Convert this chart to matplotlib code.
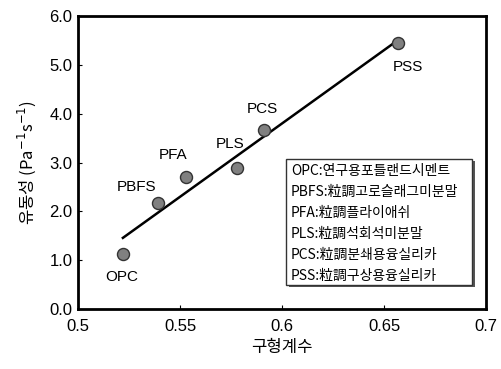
import numpy as np
from matplotlib import pyplot as plt
from matplotlib.patches import Rectangle

# data
names = ['OPC', 'PBFS', 'PFA', 'PLS', 'PCS', 'PSS']
shape_coef = [0.522, 0.539, 0.553, 0.578, 0.591, 0.657]
fluidity = [1.12, 2.17, 2.70, 2.89, 3.66, 5.45]
legend_lines = [
    'OPC:연구용포틀랜드시멘트',
    'PBFS:粒調고로슬래그미분말',
    'PFA:粒調플라이애쉬',
    'PLS:粒調석회석미분말',
    'PCS:粒調분쇄용융실리카',
    'PSS:粒調구상용융실리카',
]
x_ticks = [0.5, 0.55, 0.6, 0.65, 0.7]
x_tick_labels = ['0.5', '0.55', '0.6', '0.65', '0.7']
y_ticks = [0.0, 1.0, 2.0, 3.0, 4.0, 5.0, 6.0]

# label offsets in pixels from each point
label_offsets = [(-1, -23), (-21, 16), (-13, 22), (-7, 24), (-1, 21), (10, -24)]

plt.rcParams['font.family'] = ['Noto Sans CJK KR', 'DejaVu Sans']
num_font = ['Liberation Sans', 'DejaVu Sans']

fig = plt.figure(figsize=(5.01, 3.69), dpi=100)
ax = fig.add_axes([0.1557, 0.1626, 0.8144, 0.794])

# trend line through the points
k, b = np.polyfit(shape_coef, fluidity, 1)
x_fit = np.array([min(shape_coef), max(shape_coef)])
ax.plot(x_fit, k * x_fit + b, color='black', lw=1.8, zorder=2)

ax.scatter(shape_coef, fluidity, s=75, color='#808080', edgecolor='#333333',
           linewidth=1.0, zorder=3)

for name, x, y, off in zip(names, shape_coef, fluidity, label_offsets):
    ax.annotate(name, (x, y), xytext=off, textcoords='offset pixels',
                ha='center', va='center', fontsize=11, family=num_font)

ax.set_xlim(0.5, 0.7)
ax.set_ylim(0.0, 6.0)
ax.set_xticks(x_ticks)
ax.set_xticklabels(x_tick_labels)
ax.set_yticks(y_ticks)
ax.set_yticklabels([f'{v:.1f}' for v in y_ticks])
for lab in ax.get_xticklabels() + ax.get_yticklabels():
    lab.set_family(num_font)
    lab.set_fontsize(12)
ax.tick_params(axis='x', direction='in', length=3, width=0.8, pad=7)
ax.tick_params(axis='y', direction='in', length=3, width=0.8, pad=4)
for sp in ax.spines.values():
    sp.set_linewidth(2.0)

ax.set_xlabel('구형계수', fontsize=12, labelpad=4)
ax.set_ylabel('유동성 (Pa$^{-1}$s$^{-1}$)', fontsize=12, labelpad=8)

# legend box with a shadow
x0, y0, w, h = 0.51, 0.082, 0.456, 0.43
ax.add_patch(Rectangle((x0 + 0.006, y0 - 0.008), w, h, transform=ax.transAxes,
                       facecolor='#555555', edgecolor='none', zorder=4))
ax.add_patch(Rectangle((x0, y0), w, h, transform=ax.transAxes,
                       facecolor='white', edgecolor='#333333', lw=1.0, zorder=5))
for i, line in enumerate(legend_lines):
    ax.text(x0 + 0.012, 0.470 - i * 0.0715, line, transform=ax.transAxes,
            ha='left', va='center', fontsize=10, zorder=6)

fig.savefig('out.png', dpi=100)
